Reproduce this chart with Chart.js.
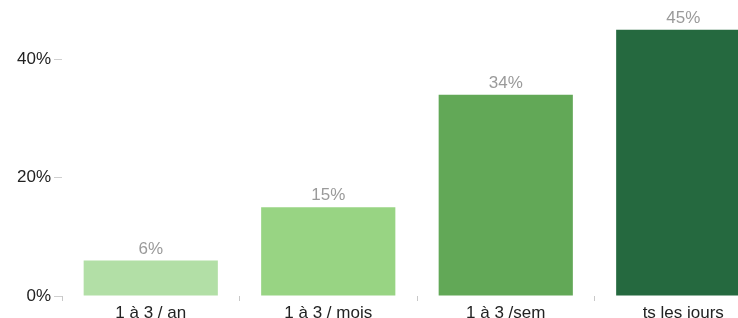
<!DOCTYPE html>
<html lang="fr">
<head>
  <meta charset="UTF-8"/>
  <title>Fréquence</title>
  <style>
    html, body { margin: 0; padding: 0; background: #fff; overflow: hidden; }
    .wrap { position: relative; width: 772px; height: 318px; }
  </style>
</head>
<body>
  <div class="wrap"><canvas id="freqChart"></canvas></div>

  <script src="https://cdn.jsdelivr.net/npm/chart.js"></script>
  <script>
    // values
    const categories = ['1 à 3 / an', '1 à 3 / mois', '1 à 3 /sem', 'ts les jours'];
    const percents = [6, 15, 34, 45];
    const barColors = ['#b2dfa6', '#98d483', '#62a857', '#25693f'];
    const yTicks = [0, 20, 40];

    const FONT = '"Liberation Sans", Arial, sans-serif';

    // value labels above each bar
    const valueLabels = {
      id: 'valueLabels',
      afterDatasetsDraw(chart) {
        const ctx = chart.ctx;
        const meta = chart.getDatasetMeta(0);
        ctx.save();
        ctx.font = '17px ' + FONT;
        ctx.fillStyle = '#9a9a9a';
        ctx.textAlign = 'center';
        ctx.textBaseline = 'alphabetic';
        meta.data.forEach((bar, i) => {
          ctx.fillText(percents[i] + '%', bar.x, bar.y - 7);
        });
        ctx.restore();
      }
    };

    new Chart(document.getElementById('freqChart'), {
      type: 'bar',
      data: {
        labels: categories,
        datasets: [{
          data: percents,
          backgroundColor: barColors,
          borderWidth: 0,
          categoryPercentage: 1,
          barPercentage: 0.756
        }]
      },
      options: {
        responsive: true,
        maintainAspectRatio: false,
        animation: false,
        layout: { padding: 0 },
        plugins: { legend: { display: false }, tooltip: { enabled: false } },
        scales: {
          x: {
            afterFit(scale) { scale.height = 22; },
            border: { display: false },
            grid: {
              offset: true,
              drawOnChartArea: false,
              drawTicks: true,
              tickLength: 5,
              color: '#c8c8c8'
            },
            ticks: {
              padding: 2,
              color: '#222',
              font: { family: FONT, size: 17 }
            }
          },
          y: {
            min: 0,
            max: 47.8,
            afterFit(scale) { scale.width = 62; },
            afterBuildTicks(scale) {
              scale.ticks = yTicks.map(v => ({ value: v }));
            },
            border: { display: false },
            grid: {
              drawOnChartArea: false,
              drawTicks: true,
              tickLength: 8,
              color: '#cfcfcf'
            },
            ticks: {
              padding: 3,
              color: '#222',
              font: { family: FONT, size: 17 },
              callback: v => v + '%'
            }
          }
        }
      },
      plugins: [valueLabels]
    });
  </script>
</body>
</html>
